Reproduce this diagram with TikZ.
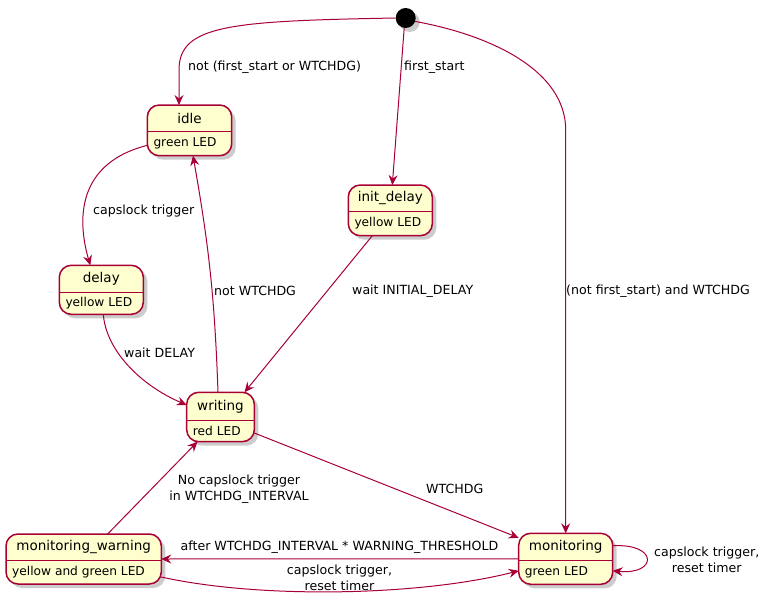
\documentclass[tikz,border=0pt]{standalone}
\usepackage{fontspec}
\setmainfont{DejaVu Sans}
\usetikzlibrary{arrows.meta,calc,shadows}
\definecolor{umlred}{HTML}{A80036}
\definecolor{umlfill}{HTML}{FEFECE}
\tikzset{
  statebox/.style={draw=umlred, line width=1.5pt, fill=umlfill, rounded corners=12pt,
                   inner sep=0pt, outer sep=0pt,
                   drop shadow={shadow xshift=4pt, shadow yshift=-4pt, opacity=0.4}},
  divline/.style={draw=umlred, line width=1.5pt},
  stitle/.style={inner sep=0pt, font=\fontsize{13.5}{16}\selectfont},
  sbody/.style={inner sep=0pt, anchor=west, font=\fontsize{12.2}{14}\selectfont},
  lbl/.style={inner sep=0pt, align=center, font=\fontsize{12.6}{16}\selectfont},
  startdot/.style={circle, fill=black, minimum size=20pt, inner sep=0pt, outer sep=0pt,
                   drop shadow={shadow xshift=4pt, shadow yshift=-4pt, opacity=0.4}},
  trans/.style={-{Stealth[length=10pt, width=9pt, inset=3.5pt]}, line width=1pt, color=umlred}}
% name, left, top, right, bottom, divider, title, body
\newcommand{\umlstate}[8]{%
  \node[statebox, minimum width={#4-#2}, minimum height={#5-#3}] (#1) at ({(#2+#4)/2},{(#3+#5)/2}) {};
  \draw[divline] (#2,#6) -- (#4,#6);
  \node[stitle] (#1-t) at ({(#2+#4)/2},{(#3+#6)/2}) {#7};
  \node[sbody] (#1-b) at ({#2+6},{(#6+#5)/2}) {#8};}

\begin{document}
\begin{tikzpicture}[x=1pt, y=-1pt]
  \useasboundingbox[fill=white] (0,0) rectangle (769,613);

  \node[startdot] (start) at (405.7,18) {};
  \umlstate{idle}{147.3}{105}{231.7}{155.7}{131.7}{idle}{green LED}
  \umlstate{init}{348.3}{185}{432.3}{235.7}{211.3}{init\_delay}{yellow LED}
  \umlstate{delay}{59.3}{265.3}{143.3}{314.3}{292.3}{delay}{yellow LED}
  \umlstate{writing}{186.7}{392.3}{254.3}{441.7}{420.7}{writing}{red LED}
  \umlstate{mw}{6}{534}{161.3}{584}{560.7}{monitoring\_warning}{yellow and green LED}
  \umlstate{mon}{518.7}{533.3}{612.7}{584.3}{560.3}{monitoring}{green LED}

  % from the start
  \draw[trans] (start.west) .. controls (230,21) and (179,25) .. (179,70) -- ([xshift=-10.5pt]idle.north);
  \node[lbl, anchor=west] (l-idle) at (188,67) {not (first\_start or WTCHDG)};
  \draw[trans] ([xshift=-1.5pt]start.south) -- ([xshift=2pt]init.north);
  \node[lbl, anchor=west] (l-first) at (404,67) {first\_start};
  \draw[trans] (start.-20) .. controls (490,35) and (565.7,70) .. (mon.north |- 0,130) -- (mon.north);
  \node[lbl, anchor=west] (l-mon) at (566,291) {(not first\_start) and WTCHDG};

  % upper states
  \draw[trans] ([yshift=-15pt]idle.west) .. controls (70,165) and (80,230) .. ([xshift=-11pt]delay.north);
  \node[lbl, anchor=west] (l-caps) at (93,211) {capslock trigger};
  \draw[trans] ([xshift=2pt]delay.south) .. controls (106,350) and (140,385) .. ([yshift=12pt]writing.west);
  \node[lbl, anchor=west] (l-delay) at (124,353) {wait DELAY};
  \draw[trans] ([xshift=-18pt]init.south) -- ([xshift=24pt]writing.north);
  \node[lbl, anchor=west] (l-init) at (352,291) {wait INITIAL\_DELAY};
  \draw[trans] ([xshift=-2.5pt]writing.north) to[bend right=4] ([xshift=3.5pt]idle.south);
  \node[lbl, anchor=west] (l-notw) at (214,291) {not WTCHDG};

  % monitoring
  \draw[trans] ([yshift=-16pt]writing.east) -- ([yshift=21pt]mon.west);
  \node[lbl, anchor=west] (l-wtchdg) at (426,489) {WTCHDG};
  \draw[trans] ([xshift=24pt]mw.north) -- ([xshift=-23pt]writing.south);
  \node[lbl] (l-nocaps) at (239,489) {No capslock trigger\\in WTCHDG\_INTERVAL};
  \draw[trans] (mon.west) -- (mw.east);
  \node[lbl] (l-after) at (339.5,547) {after WTCHDG\_INTERVAL * WARNING\_THRESHOLD};
  \draw[trans] ([yshift=-18pt]mw.east) .. controls (260,599) and (420,596) .. ([yshift=-12pt]mon.west);
  \node[lbl] (l-reset) at (339.5,578) {capslock trigger,\\reset timer};
  \draw[trans] ([yshift=13pt]mon.east) .. controls (658,543) and (658,575) .. ([yshift=-12pt]mon.east);
  \node[lbl] (l-loop) at (706.7,560) {capslock trigger,\\reset timer};
\end{tikzpicture}
\end{document}
